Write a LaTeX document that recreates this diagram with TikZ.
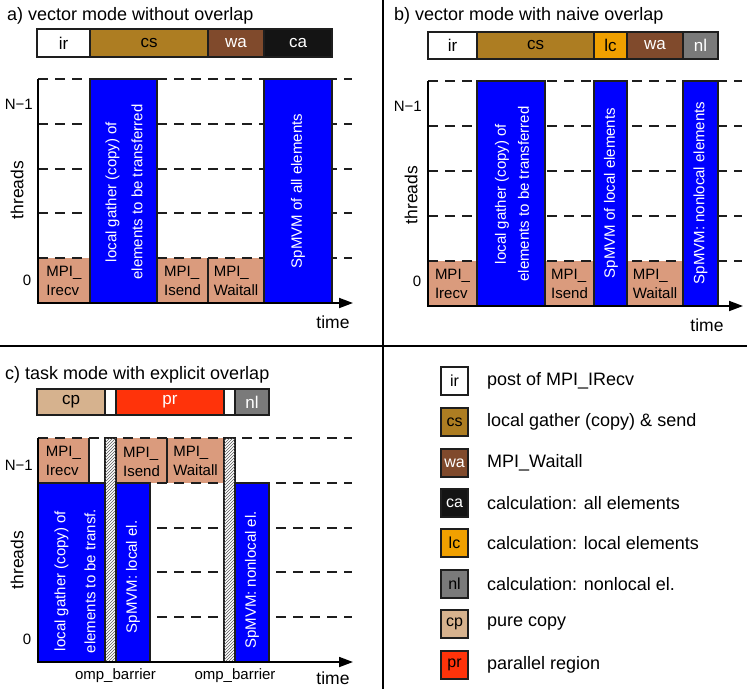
\documentclass[tikz,border=0pt]{standalone}
\usepackage{fontspec}
\setmainfont{Liberation Sans}
\usetikzlibrary{patterns,arrows.meta}
\definecolor{mpicol}{RGB}{218,155,125}
\definecolor{cscol}{RGB}{173,125,34}
\definecolor{wacol}{RGB}{128,74,44}
\definecolor{cacol}{RGB}{20,20,20}
\definecolor{lccol}{RGB}{240,160,0}
\definecolor{nlcol}{RGB}{122,122,122}
\definecolor{cpcol}{RGB}{214,178,142}
\definecolor{prcol}{RGB}{255,51,10}
\definecolor{calccol}{RGB}{0,0,255}
\definecolor{edge}{RGB}{30,30,30}
\begin{document}
\begin{tikzpicture}[x=1pt,y=-1pt,
  seg/.style={draw=edge,line width=1.8pt},
  segtxt/.style={font=\fontsize{17}{20}\selectfont,inner sep=0pt},
  title/.style={font=\fontsize{18}{21}\selectfont,anchor=base west,inner sep=0pt},
  gridline/.style={draw=edge,line width=1.7pt,dash pattern=on 10pt off 7pt},
  mpifill/.style={fill=mpicol},
  mpiedge/.style={draw=edge,line width=1.2pt},
  mpitxt/.style={font=\fontsize{15}{19}\selectfont,align=left,inner sep=0pt},
  calcbox/.style={fill=calccol,draw=edge,line width=1.2pt},
  calctxt/.style={font=\fontsize{15}{18}\selectfont,text=white,align=center,rotate=90,inner sep=0pt},
  hatchbox/.style={fill=white,draw=edge,line width=1.2pt,postaction={pattern=north east lines,pattern color=black!65}},
  axis/.style={draw=black,line width=1.8pt},
  axisarrow/.style={draw=black,line width=1.8pt,-{Triangle[length=14pt,width=10pt]}},
  axlab/.style={font=\fontsize{17.5}{20}\selectfont,inner sep=0pt},
  ticklab/.style={font=\fontsize{15}{18}\selectfont,inner sep=0pt},
  divider/.style={draw=black,line width=2pt},
  legbox/.style={draw=edge,line width=1.5pt,minimum width=27pt,minimum height=28pt,inner sep=0pt,font=\fontsize{16}{18}\selectfont},
  legtxt/.style={font=\fontsize{18}{21}\selectfont,anchor=west,inner sep=0pt}
]
\useasboundingbox (0,0) rectangle (747,689);

% dividers
\draw[divider] (383,0) -- (383,689);
\draw[divider] (0,346) -- (747,346);

%%%%%%%%%%%%%%%% Panel a
\node[title] (ta) at (7,20) {a) vector mode without overlap};
\draw[seg,fill=white] (37,29) rectangle (90,57);
\draw[seg,fill=cscol] (90,29) rectangle (208,57);
\draw[seg,fill=wacol] (208,29) rectangle (264,57);
\draw[seg,fill=cacol] (264,29) rectangle (332,57);
\node[segtxt] (a-ir) at (63.5,43) {ir};
\node[segtxt] (a-cs) at (149,43) {cs};
\node[segtxt,text=white] (a-wa) at (236,43) {wa};
\node[segtxt,text=white] (a-ca) at (298,43) {ca};

\fill[mpifill] (38,258) rectangle (90,303);
\fill[mpifill] (157,258) rectangle (264,303);
\draw[mpiedge] (90,258) -- (90,303);
\draw[mpiedge] (157,258) -- (157,303);
\draw[mpiedge] (208,258) -- (208,303);
\foreach \yy in {79,124,169,213,258} \draw[gridline] (38,\yy) -- (352,\yy);
\draw[calcbox] (90,79) rectangle (157,303);
\draw[calcbox] (264,79) rectangle (332,303);
\node[mpitxt] (a-irecv) at (64,281) {MPI\_\\Irecv};
\node[mpitxt] (a-isend) at (182.5,281) {MPI\_\\Isend};
\node[mpitxt] (a-wait) at (236,281) {MPI\_\\Waitall};
\node[calctxt] (a-gather) at (124,192) {local gather (copy) of\\[8pt]elements to be transferred};
\node[calctxt] (a-spmvm) at (298,191) {SpMVM of all elements};
\draw[axis] (38,79) -- (38,303);
\draw[axisarrow] (37,303) -- (353,303);
\node[ticklab,anchor=east] (a-n1) at (33,104) {N−1};
\node[ticklab] (a-0) at (27,280) {0};
\node[axlab,rotate=90] (a-thr) at (17,190) {threads};
\node[axlab] (a-time) at (333,322) {time};

%%%%%%%%%%%%%%%% Panel b
\node[title] (tb) at (394,20) {b) vector mode with naive overlap};
\draw[seg,fill=white] (428,32) rectangle (477,59);
\draw[seg,fill=cscol] (477,32) rectangle (594,59);
\draw[seg,fill=lccol] (594,32) rectangle (627,59);
\draw[seg,fill=wacol] (627,32) rectangle (683,59);
\draw[seg,fill=nlcol] (683,32) rectangle (718,59);
\node[segtxt] (b-ir) at (452.5,45.5) {ir};
\node[segtxt] (b-cs) at (535.5,45.5) {cs};
\node[segtxt] (b-lc) at (610.5,45.5) {lc};
\node[segtxt,text=white] (b-wa) at (655,45.5) {wa};
\node[segtxt,text=white] (b-nl) at (700.5,45.5) {nl};

\fill[mpifill] (428,261) rectangle (477,306);
\fill[mpifill] (545,261) rectangle (594,306);
\fill[mpifill] (627,261) rectangle (683,306);
\foreach \yy in {81,126,171,216,261} \draw[gridline] (428,\yy) -- (742,\yy);
\draw[calcbox] (477,81) rectangle (545,306);
\draw[calcbox] (594,81) rectangle (627,306);
\draw[calcbox] (683,81) rectangle (718,306);
\node[mpitxt] (b-irecv) at (452.5,284) {MPI\_\\Irecv};
\node[mpitxt] (b-isend) at (569.5,284) {MPI\_\\Isend};
\node[mpitxt] (b-wait) at (655,284) {MPI\_\\Waitall};
\node[calctxt] (b-gather) at (512,194) {local gather (copy) of\\[5pt]elements to be transferred};
\node[calctxt] (b-local) at (611,193) {SpMVM of local elements};
\node[calctxt] (b-nonlocal) at (700.5,193) {SpMVM: nonlocal elements};
\draw[axis] (428,81) -- (428,306);
\draw[axisarrow] (427,306) -- (743,306);
\node[ticklab,anchor=east] (b-n1) at (422,106) {N−1};
\node[ticklab] (b-0) at (417,281) {0};
\node[axlab,rotate=90] (b-thr) at (411,195) {threads};
\node[axlab] (b-time) at (707,325) {time};

%%%%%%%%%%%%%%%% Panel c
\node[title] (tc) at (5,379) {c) task mode with explicit overlap};
\draw[seg,fill=cpcol] (37,389) rectangle (105,415);
\draw[seg,fill=white] (105,389) rectangle (116,415);
\draw[seg,fill=prcol] (116,389) rectangle (224,415);
\draw[seg,fill=white] (224,389) rectangle (235,415);
\draw[seg,fill=nlcol] (235,389) rectangle (269,415);
\node[segtxt] (c-cp) at (71,402) {cp};
\node[segtxt,text=white] (c-pr) at (170,402) {pr};
\node[segtxt,text=white] (c-nl) at (252,402) {nl};

\fill[mpifill] (38,438) rectangle (89,483);
\fill[mpifill] (116,438) rectangle (224,483);
\draw[mpiedge] (89,438) -- (89,483);
\draw[mpiedge] (167,438) -- (167,483);
\draw[mpiedge] (116,438) -- (116,483);
\foreach \yy in {438,483,528,572,617} \draw[gridline] (38,\yy) -- (352,\yy);
\draw[hatchbox] (105,438) rectangle (116,662);
\draw[hatchbox] (224,438) rectangle (235,662);
\draw[calcbox] (38,483) rectangle (105,662);
\draw[calcbox] (116,483) rectangle (150,662);
\draw[calcbox] (235,483) rectangle (269,662);
\node[mpitxt] (c-irecv) at (63.5,461) {MPI\_\\Irecv};
\node[mpitxt] (c-isend) at (141.5,462) {MPI\_\\Isend};
\node[mpitxt] (c-wait) at (195.5,461) {MPI\_\\Waitall};
\node[calctxt] (c-gather) at (75,581) {local gather (copy) of\\[12pt]elements to be transf.};
\node[calctxt] (c-local) at (133,577) {SpMVM: local el.};
\node[calctxt] (c-nonlocal) at (252,580) {SpMVM: nonlocal el.};
\draw[axis] (38,438) -- (38,662);
\draw[axisarrow] (37,662) -- (353,662);
\node[ticklab,anchor=east] (c-n1) at (33,465) {N−1};
\node[ticklab] (c-0) at (27,639) {0};
\node[axlab,rotate=90] (c-thr) at (17,560) {threads};
\node[axlab] (c-time) at (333,678) {time};
\node[ticklab] (c-omp1) at (115.5,676) {omp\_barrier};
\node[ticklab] (c-omp2) at (235,676) {omp\_barrier};

%%%%%%%%%%%%%%%% Legend
\node[legbox,fill=white] (l-ir) at (454.5,381) {ir};
\node[legtxt] (lt-ir) at (487,381) {post of MPI\_IRecv};
\node[legbox,fill=cscol] (l-cs) at (454.5,422) {cs};
\node[legtxt] (lt-cs) at (487,422) {local gather (copy) \& send};
\node[legbox,fill=wacol,text=white] (l-wa) at (454.5,463) {wa};
\node[legtxt] (lt-wa) at (487,463) {MPI\_Waitall};
\node[legbox,fill=cacol,text=white] (l-ca) at (454.5,503) {ca};
\node[legtxt] (lt-ca) at (487,503) {calculation: all elements};
\node[legbox,fill=lccol] (l-lc) at (454.5,543) {lc};
\node[legtxt] (lt-lc) at (487,543) {calculation: local elements};
\node[legbox,fill=nlcol] (l-nl) at (454.5,584) {nl};
\node[legtxt] (lt-nl) at (487,584) {calculation: nonlocal el.};
\node[legbox,fill=cpcol] (l-cp) at (454.5,624) {cp};
\node[legtxt] (lt-cp) at (487,624) {pure copy};
\node[legbox,fill=prcol] (l-pr) at (454.5,665) {pr};
\node[legtxt] (lt-pr) at (487,665) {parallel region};
\end{tikzpicture}
\end{document}
